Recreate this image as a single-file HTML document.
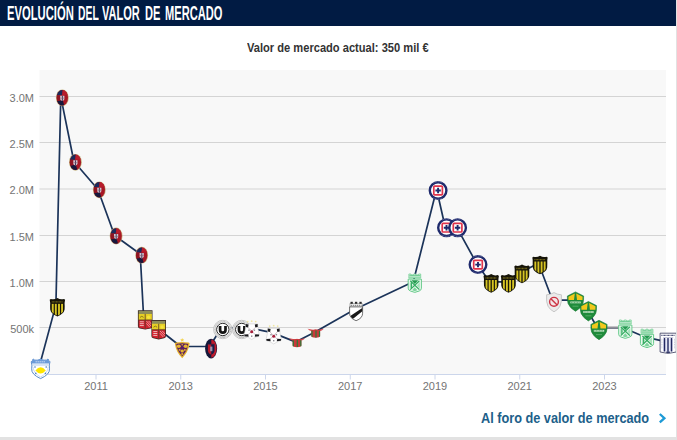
<!DOCTYPE html>
<html><head><meta charset="utf-8">
<style>
html,body{margin:0;padding:0;}
body{width:677px;height:440px;overflow:hidden;background:#e2e2e2;font-family:"Liberation Sans",sans-serif;position:relative;}
#box{position:absolute;left:0;top:0;width:676px;height:437px;background:#fff;overflow:hidden;}
#hdr{position:absolute;left:0;top:0;width:676px;height:26px;background:#011b43;}
#ttl span{position:absolute;top:1.6px;font-size:19.3px;line-height:23px;font-weight:bold;color:#fff;white-space:nowrap;transform-origin:0 0;}
#sub{position:absolute;left:247px;top:41px;font-size:12px;line-height:15px;font-weight:bold;color:#333;white-space:nowrap;transform-origin:0 0;transform:scaleX(0.926);}
#lnk{position:absolute;left:481px;top:409px;font-size:14px;line-height:18px;font-weight:bold;color:#1d5f8a;white-space:nowrap;transform-origin:0 0;transform:scaleX(0.908);}
svg{position:absolute;left:0;top:0;}
.yl{font-size:11px;fill:#747474;text-anchor:end;}
.xl{font-size:11px;fill:#747474;text-anchor:middle;}
</style></head><body>
<div id="box">
<div id="hdr"><div id="ttl"><span style="left:6.5px;transform:scaleX(0.583)">EVOLUCIÓN</span><span style="left:78.3px;transform:scaleX(0.537)">DEL</span><span style="left:102.3px;transform:scaleX(0.572)">VALOR</span><span style="left:144.8px;transform:scaleX(0.575)">DE</span><span style="left:165.2px;transform:scaleX(0.576)">MERCADO</span></div></div>
<div id="sub">Valor de mercado actual: 350 mil €</div>
<svg width="677" height="440" viewBox="0 0 677 440" font-family="Liberation Sans, sans-serif">
<defs>
<!-- Alianza Atletico style light-blue badge -->
<symbol id="alz" overflow="visible">
<path d="M-7.4,-9.8 Q-6.4,-8.2 -3.4,-8.6 Q-1.2,-8.8 0,-9.9 Q1.2,-8.8 3.4,-8.6 Q6.4,-8.2 7.4,-9.8 Q8,-8 9.4,-7 Q8.2,-4 8.9,0 Q9.4,5.6 0,9.8 Q-9.4,5.6 -8.9,0 Q-8.2,-4 -9.4,-7 Q-8,-8 -7.4,-9.8 Z" fill="#fff" stroke="#5a8bcb" stroke-width="1"/>
<path d="M-7.4,-9.8 Q-6.4,-8.2 -3.4,-8.6 Q-1.2,-8.8 0,-9.9 Q1.2,-8.8 3.4,-8.6 Q6.4,-8.2 7.4,-9.8 Q8,-8 9.4,-7 Q8.9,-5.8 8.7,-5.2 L-8.7,-5.2 Q-8.9,-5.8 -9.4,-7 Q-8,-8 -7.4,-9.8 Z" fill="#6c9bd9"/>
<path d="M-5,-7 H5" stroke="#e6eefa" stroke-width="0.9" stroke-dasharray="1.2 0.8"/>
<path d="M-7.8,-3.8 H7.8" stroke="#8fb2e0" stroke-width="0.7"/>
<path d="M-7.6,-2 Q-7.2,4.6 0,8.2 Q7.2,4.6 7.6,-2" fill="none" stroke="#a9c4e8" stroke-width="0.6"/>
<path d="M-5.2,1.7 Q-2.6,-1.6 0,-1.6 Q2.6,-1.6 5.2,1.7 Q2.6,4.8 0,4.8 Q-2.6,4.8 -5.2,1.7 Z" fill="#ffe500"/>
<g fill="#4a7fc4"><circle cx="-5.6" cy="-1.8" r="0.8"/><circle cx="5.6" cy="-1.8" r="0.8"/><circle cx="-4.8" cy="4.6" r="0.8"/><circle cx="4.8" cy="4.6" r="0.8"/></g>
</symbol>
<!-- Penarol -->
<clipPath id="penc"><path d="M-6.6,-3.4 H6.6 L6.5,2.3 Q6,5.9 0,8.5 Q-6,5.9 -6.5,2.3 Z"/></clipPath>
<symbol id="pen" overflow="visible">
<path d="M-7.7,-7.4 L-6.6,-8.3 Q-3,-7.2 0,-9.3 Q3,-7.2 6.6,-8.3 L7.7,-7.4 Q7,-5 7.3,-1 L7.2,2.4 Q6.6,6.6 0,9.3 Q-6.6,6.6 -7.2,2.4 L-7.3,-1 Q-7,-5 -7.7,-7.4 Z" fill="#161408"/>
<path d="M-5.6,-5.4 H5.6" stroke="#7a6e1c" stroke-width="1.3" stroke-dasharray="0.9 0.5"/>
<g clip-path="url(#penc)" fill="#d6c424"><rect x="-5.6" y="-4" width="1.9" height="14"/><rect x="-2.55" y="-4" width="1.9" height="14"/><rect x="0.65" y="-4" width="1.9" height="14"/><rect x="3.7" y="-4" width="1.9" height="14"/></g>
</symbol>
<!-- Cagliari old -->
<clipPath id="cagc"><ellipse cx="0" cy="0" rx="5.7" ry="7.7"/></clipPath>
<symbol id="cag" overflow="visible">
<ellipse cx="0" cy="0" rx="6.4" ry="8.4" fill="#b9a468" opacity="0.85"/>
<g clip-path="url(#cagc)"><rect x="-6" y="-9" width="12" height="18" fill="#a81826"/><path d="M-6,-9 H0.6 L-0.4,-2.6 H-6 Z" fill="#1b2a5c"/><path d="M-6,3.2 L0.4,2.4 L2.4,9 H-6 Z" fill="#17183c"/><path d="M0.6,-9 H6 V-3 L0,-2.6 Z" fill="#b81c2c"/><path d="M-6,-2.6 H-2.4 V3 L-6,3.4 Z" fill="#8f1422"/></g>
<path d="M-2.1,-2.1 H2.1 V1.1 Q2.1,2.4 0,3.2 Q-2.1,2.4 -2.1,1.1 Z" fill="#cfc6d2"/>
<path d="M0.1,-2 V3" stroke="#3a2a4a" stroke-width="0.9"/>
<path d="M-2,0.4 H2" stroke="#8a5a6a" stroke-width="0.6"/>
</symbol>
<!-- Cagliari new -->
<symbol id="cg2" overflow="visible">
<ellipse cx="0" cy="0" rx="6" ry="9.9" fill="#15183a"/>
<path d="M0.2,-9.2 A5.2,9.2 0 0 1 0.2,9.2 Z" fill="#c21a2b"/>
<path d="M-3.2,-4.4 H0.2 V6.2 Q-3.2,4.8 -3.2,2 Z" fill="#b81a2a"/>
<path d="M0.2,-4.4 H3.4 V2 Q3.4,4.8 0.2,6.2 Z" fill="#1a1d48"/>
<rect x="-0.9" y="-2" width="2.2" height="4.6" fill="#a9a3bd" opacity="0.9"/>
<path d="M-3.2,-4.4 H3.4" stroke="#3a2348" stroke-width="0.6"/>
</symbol>
<!-- Barcelona SC -->
<clipPath id="bscc"><path d="M-6.7,-9 H6.7 V6.4 Q6.7,7.6 5.2,8 L0,9.2 L-5.2,8 Q-6.7,7.6 -6.7,6.4 Z"/></clipPath>
<symbol id="bsc" overflow="visible">
<path d="M-7.3,-9.6 H7.3 V6.5 Q7.3,8.2 5.4,8.6 L0,9.8 L-5.4,8.6 Q-7.3,8.2 -7.3,6.5 Z" fill="#3a2b26"/>
<g clip-path="url(#bscc)">
<rect x="-7" y="-9" width="14" height="3.4" fill="#8e8e58"/>
<rect x="-7" y="-5.8" width="14" height="6" fill="#e6cf24"/>
<rect x="-7" y="0.2" width="14" height="10" fill="#d0222f"/>
<path d="M-5.4,2 H-1.4 M-5.4,3.9 H-1.4 M-5.4,5.8 H-1.4" stroke="#f4c9c9" stroke-width="0.9"/>
<path d="M1.2,1.2 L6,6.4 M1.2,3.6 L4.6,7.4 M3.4,1.2 L6.4,4.4" stroke="#f0b4b4" stroke-width="0.8"/>
<path d="M0,-5.8 V9 M-7,0.2 H7" stroke="#5a3a28" stroke-width="0.8"/>
<path d="M-5.2,-2.4 Q-3.4,-4.6 -1.6,-2.4" stroke="#8a7a20" stroke-width="1" fill="none"/>
<circle cx="3.4" cy="-2.6" r="1.7" fill="#f4e23a"/>
</g>
</symbol>
<!-- Maribor -->
<symbol id="mar" overflow="visible">
<path d="M0,-10.6 L0.6,-9.3 L2,-9.1 L1,-8.1 L1.3,-6.7 L0,-7.4 L-1.3,-6.7 L-1,-8.1 L-2,-9.1 L-0.6,-9.3 Z" fill="#f3d452"/>
<path d="M-7.3,-4.4 Q-7.8,-5.7 -6.3,-5.9 Q0,-6.9 6.3,-5.9 Q7.8,-5.7 7.3,-4.4 Q6.2,3.6 0,9.7 Q-6.2,3.6 -7.3,-4.4 Z" fill="#e3b12b"/>
<path d="M-5.9,-3.9 Q-6.2,-4.7 -5.2,-4.8 Q0,-5.6 5.2,-4.8 Q6.2,-4.7 5.9,-3.9 Q5,2.6 0,7.7 Q-5,2.6 -5.9,-3.9 Z" fill="#5c2163"/>
<g fill="#e6b62e"><ellipse cx="-3.4" cy="-2.2" rx="2" ry="1.8"/><ellipse cx="3.4" cy="-2.2" rx="2" ry="1.8"/><ellipse cx="0" cy="2.5" rx="1.7" ry="1.6"/><ellipse cx="-2.6" cy="1.4" rx="1" ry="0.9"/><ellipse cx="2.6" cy="1.4" rx="1" ry="0.9"/><ellipse cx="0" cy="5.4" rx="1" ry="1"/><ellipse cx="0" cy="-3.8" rx="0.8" ry="0.7"/></g>
</symbol>
<!-- Universitario -->
<symbol id="uni" overflow="visible">
<circle r="9.2" fill="#fff" stroke="#b0b0b0" stroke-width="0.7"/>
<circle r="7.8" fill="#fafafa" stroke="#bcbcbc" stroke-width="1.4" stroke-dasharray="1 0.4"/>
<circle r="6.2" fill="#fff" stroke="#2a2a2a" stroke-width="1"/>
<path d="M-2.7,-3.5 V0.6 Q-2.7,3.2 0,3.2 Q2.7,3.2 2.7,0.6 V-3.5" fill="none" stroke="#151515" stroke-width="2.7"/>
<path d="M-2.4,7.6 H2.4" stroke="#aaa" stroke-width="0.6"/>
</symbol>
<!-- Boavista -->
<symbol id="boa" overflow="visible">
<g fill="#efe6a4"><circle cx="-4" cy="-8.5" r="0.9"/><circle cx="0" cy="-8.9" r="0.9"/><circle cx="4" cy="-8.5" r="0.9"/></g>
<path d="M-5.9,-6.2 H5.9 Q6.1,-1 7.5,4.6 L7.3,6.1 Q3,7 0,9.4 Q-3,7 -7.3,6.1 L-7.5,4.6 Q-6.1,-1 -5.9,-6.2 Z" fill="#fff" stroke="#c4c4c4" stroke-width="0.5"/>
<g fill="#1b1b1f"><path d="M-5.9,-6.1 L-3.1,-5.7 L-3.6,-2.5 L-6,-3.1 Z"/><path d="M5.9,-6.1 L3.1,-5.7 L3.6,-2.5 L6,-3.1 Z"/><path d="M-7.4,4.3 L-3.4,4.1 L-3.1,6.7 L-7.2,6.2 Z"/><path d="M7.4,4.3 L3.4,4.1 L3.1,6.7 L7.2,6.2 Z"/></g>
<path d="M-3.8,-2.8 L3.6,4.6 M3.8,-2.8 L-3.6,4.6" stroke="#b7a3ab" stroke-width="0.7"/>
<g fill="#8c8c94"><rect x="-3.4" y="-0.6" width="1.4" height="1.4"/><rect x="2" y="-0.6" width="1.4" height="1.4"/><rect x="-0.7" y="5.4" width="1.4" height="1.4"/></g>
<circle cx="0" cy="1.7" r="1.5" fill="#a61f3a"/>
</symbol>
<!-- Maritimo -->
<symbol id="mtm" overflow="visible">
<path d="M-8.2,-4.5 Q-4.6,-4.3 -2.4,-3.3 L0,-3.9 L2.4,-3.3 Q4.6,-4.3 8.2,-4.5 Q6.4,-2.2 3.4,-1.9 L-3.4,-1.9 Q-6.4,-2.2 -8.2,-4.5 Z" fill="#d8484e" opacity="0.9"/>
<path d="M-4.4,-3.4 Q0,-4.2 4.4,-3.4 V2.4 Q4.4,4.2 0,4.5 Q-4.4,4.2 -4.4,2.4 Z" fill="#c9393b"/>
<path d="M-3.7,-2.6 V3.4 M0.3,-2.8 V4.3 M3.8,-2.6 V3.4" stroke="#2c7a38" stroke-width="1.2"/>
</symbol>
<!-- Danubio -->
<clipPath id="danc"><path d="M-6.2,-4 H6.2 V2 Q6.2,6.8 0,9 Q-6.2,6.8 -6.2,2 Z"/></clipPath>
<symbol id="dan" overflow="visible">
<path d="M-6.2,-7.8 H6.2 V-4 H-6.2 Z" fill="#f1f1f1" stroke="#8a8a8a" stroke-width="0.6"/>
<g fill="#2b2b2b"><rect x="-5.6" y="-9.5" width="2.3" height="2"/><rect x="-1.15" y="-9.5" width="2.3" height="2"/><rect x="3.3" y="-9.5" width="2.3" height="2"/></g>
<path d="M-5.4,-5.9 H5.4" stroke="#8e8e8e" stroke-width="1.1" stroke-dasharray="1.3 0.7"/>
<path d="M-6.5,-4.4 H6.5 V2 Q6.5,7 0,9.4 Q-6.5,7 -6.5,2 Z" fill="#fff" stroke="#4a4a4a" stroke-width="0.8"/>
<g clip-path="url(#danc)"><path d="M7,-3.9 L7,-0.6 L-4.6,8.6 L-7,6.2 L-7,5.4 Z" fill="#181818"/></g>
</symbol>
<!-- Atletico Nacional -->
<symbol id="nac" overflow="visible">
<path d="M-5.9,-9.2 H-3.9 V-8.3 H-1 V-9.2 H1 V-8.3 H3.9 V-9.2 H5.9 V-5.2 H-5.9 Z" fill="#eefaf2" stroke="#6fce91" stroke-width="0.8"/>
<path d="M-5.4,-7.4 H5.4" stroke="#4fbf78" stroke-width="1"/>
<path d="M-5.4,-5.9 H5.4" stroke="#7fd49d" stroke-width="0.8"/>
<path d="M-6.6,-4.1 H6.6 V5 Q6.6,7 4.4,7.8 L0,9.2 L-4.4,7.8 Q-6.6,7 -6.6,5 Z" fill="#ecf9f0" stroke="#66ca8a" stroke-width="1"/>
<path d="M-5,-1.2 V5.6 L-2,2.2 Z M5,-1.2 V5.6 L2,2.2 Z" fill="#a8e3bd"/>
<path d="M-4.6,-2.4 L4.6,6.4 M4.6,-2.4 L-4.6,6.4" stroke="#36ad63" stroke-width="1.3"/>
<path d="M-3.4,-3 H3.4 L0,0.8 Z" fill="#249a50"/>
<path d="M-2.6,7 L0,4 L2.6,7 L0,8 Z" fill="#7fd49d"/>
<path d="M-3.4,-1.6 V5" stroke="#35ab62" stroke-width="1.1"/>
</symbol>
<!-- Cruz Azul -->
<symbol id="caz" overflow="visible">
<circle r="8.3" fill="#fff" stroke="#1f2a6c" stroke-width="2.4"/>
<path d="M-4.6,-7.4 A8.4,8.4 0 0 1 4.6,-7.4 M-4.6,7.4 A8.4,8.4 0 0 0 4.6,7.4" stroke="#8c93bb" stroke-width="0.7" fill="none" stroke-dasharray="0.9 0.7"/>
<rect x="-4.3" y="-4.3" width="8.6" height="8.6" rx="0.8" fill="#fff" stroke="#e0354c" stroke-width="1.7"/>
<path d="M0,-2.7 V2.7 M-2.7,0 H2.7" stroke="#1f2a6c" stroke-width="1.9"/>
</symbol>
<!-- no club -->
<symbol id="noc" overflow="visible">
<path d="M-7.4,-7.4 Q-3,-7.6 0,-9.6 Q3,-7.6 7.4,-7.4 Q8,0 6,4 Q4,7.6 0,9.6 Q-4,7.6 -6,4 Q-8,0 -7.4,-7.4 Z" fill="#ebebeb" stroke="#c2c2c2" stroke-width="0.9"/>
<circle cx="0" cy="-0.4" r="4.4" fill="#f3e6e7" stroke="#cc3444" stroke-width="1.4"/>
<path d="M-3.1,-3.5 L3.1,2.7" stroke="#cc3444" stroke-width="1.4"/>
</symbol>
<!-- Cuiaba -->
<clipPath id="cuic"><path d="M0,-9.7 L8.1,-5.6 Q8.3,-1 7.4,2 Q5.6,6.4 0,9.7 Q-5.6,6.4 -7.4,2 Q-8.3,-1 -8.1,-5.6 Z"/></clipPath>
<symbol id="cui" overflow="visible">
<path d="M0,-9.7 L8.1,-5.6 Q8.3,-1 7.4,2 Q5.6,6.4 0,9.7 Q-5.6,6.4 -7.4,2 Q-8.3,-1 -8.1,-5.6 Z" fill="#1f8b3b" stroke="#187a32" stroke-width="0.6" stroke-linejoin="round"/>
<g clip-path="url(#cuic)">
<path d="M-7.1,-4.9 L-0.7,-8.1 L-1.5,-1.5 H-7 Z M7.1,-4.9 L0.7,-8.1 L1.5,-1.5 H7 Z" fill="#f2c81c"/>
<rect x="-5.2" y="-0.1" width="10.4" height="1.8" fill="#d9efd9" opacity="0.9"/>
<path d="M-4.6,0.8 H4.6" stroke="#2a8f44" stroke-width="0.7" stroke-dasharray="1 0.55"/>
<path d="M-3,4.6 H3" stroke="#6ab97a" stroke-width="0.7"/>
</g>
</symbol>
<!-- Alianza Lima -->
<symbol id="ali" overflow="visible">
<path d="M-8.1,-10.2 H8.1 V8.6 Q4,9.4 0,10 Q-4,9.4 -8.1,8.6 Z" fill="#fff" stroke="#34365a" stroke-width="0.8"/>
<path d="M-6.8,-8 H6.8" stroke="#2a2e5e" stroke-width="1.2" stroke-dasharray="0.8 0.55"/>
<path d="M-3.7,-5 V8 M-0.2,-5 V8.4 M3.3,-5 V8" stroke="#cfd1ea" stroke-width="3"/>
<path d="M-3.7,-5.4 V8 M-0.2,-5.4 V8.4 M3.3,-5.4 V8" stroke="#23285e" stroke-width="1.3"/>
<path d="M-6.3,-4.6 V5.6 M6.3,-4.6 V5.6" stroke="#c4c6d6" stroke-width="0.9" stroke-dasharray="1 0.7"/>
<path d="M-5,-5.8 H5" stroke="#9a9cc0" stroke-width="0.6"/>
<rect x="-1.9" y="8.2" width="3.6" height="1.3" fill="#23285e"/>
</symbol>

</defs>
<rect x="39.5" y="70" width="626.5" height="304" fill="#f8f8f8"/>
<g stroke="#d4d4d4" stroke-width="1">
<line x1="39.5" x2="666" y1="96.5" y2="96.5"/>
<line x1="39.5" x2="666" y1="142.5" y2="142.5"/>
<line x1="39.5" x2="666" y1="189.0" y2="189.0"/>
<line x1="39.5" x2="666" y1="235.5" y2="235.5"/>
<line x1="39.5" x2="666" y1="281.5" y2="281.5"/>
<line x1="39.5" x2="666" y1="327.5" y2="327.5"/>
<line x1="39.5" x2="666" y1="374.5" y2="374.5" stroke="#ccd6eb"/>
<line x1="96" x2="96" y1="375" y2="379.5" stroke="#ccd6eb"/>
<line x1="180.75" x2="180.75" y1="375" y2="379.5" stroke="#ccd6eb"/>
<line x1="265.5" x2="265.5" y1="375" y2="379.5" stroke="#ccd6eb"/>
<line x1="350.25" x2="350.25" y1="375" y2="379.5" stroke="#ccd6eb"/>
<line x1="435" x2="435" y1="375" y2="379.5" stroke="#ccd6eb"/>
<line x1="519.75" x2="519.75" y1="375" y2="379.5" stroke="#ccd6eb"/>
<line x1="604.5" x2="604.5" y1="375" y2="379.5" stroke="#ccd6eb"/>
</g>
<g class="yl">
<text x="34" y="101.5">3.0M</text>
<text x="34" y="147.5">2.5M</text>
<text x="34" y="194.0">2.0M</text>
<text x="34" y="240.5">1.5M</text>
<text x="34" y="286.5">1.0M</text>
<text x="34" y="332.5">500k</text>
</g>
<g class="xl">
<text x="96" y="390">2011</text>
<text x="180.75" y="390">2013</text>
<text x="265.5" y="390">2015</text>
<text x="350.25" y="390">2017</text>
<text x="435" y="390">2019</text>
<text x="519.75" y="390">2021</text>
<text x="604.5" y="390">2023</text>
</g>
<polyline fill="none" stroke="#1b3359" stroke-width="1.7" stroke-linejoin="round" stroke-linecap="round" points="39.1,367.3 55.9,304.9 60.8,96.8 73.9,161.5 97.8,189.2 114.6,235.5 140.2,254.0 143.7,318.8 157.2,328.0 180.7,346.5 209.6,346.5 221.3,328.0 240.2,328.0 250.2,328.0 272.2,332.6 295.5,341.9 314.2,332.6 354.6,309.5 413.3,281.8 436.6,189.2 445.0,226.2 456.1,226.2 476.5,263.2 489.7,281.8 507.0,281.8 520.5,272.5 538.5,263.2 552.5,300.2 574.0,300.2 586.9,309.5 597.5,328.0 623.8,328.0 645.5,337.2 666.7,341.9"/>
<path d="M607,327.6 H619" stroke="#8f8f97" stroke-width="2.2"/>
<use href="#alz" x="40.6" y="368.8"/>
<use href="#pen" x="57.4" y="307.2"/>
<use href="#cag" x="62.3" y="97.8"/>
<use href="#cag" x="75.4" y="162.3"/>
<use href="#cag" x="99.3" y="189.8"/>
<use href="#cag" x="116.1" y="236.0"/>
<use href="#cag" x="141.7" y="255.2"/>
<use href="#bsc" x="145.2" y="319.8"/>
<use href="#bsc" x="158.7" y="329.6"/>
<use href="#mar" x="182.2" y="348.5"/>
<use href="#cg2" x="211.1" y="348.6"/>
<use href="#uni" x="222.8" y="329.5"/>
<use href="#uni" x="241.7" y="329.5"/>
<use href="#boa" x="251.7" y="330.1"/>
<use href="#boa" x="273.7" y="334.6"/>
<use href="#mtm" x="297.0" y="342.75"/>
<use href="#mtm" x="315.7" y="333.3"/>
<use href="#dan" x="356.1" y="311.3"/>
<use href="#nac" x="414.8" y="283.2"/>
<use href="#caz" x="438.1" y="190.5"/>
<use href="#caz" x="446.5" y="227.7"/>
<use href="#caz" x="457.6" y="227.7"/>
<use href="#caz" x="478.0" y="264.6"/>
<use href="#pen" x="491.2" y="283.4"/>
<use href="#pen" x="508.5" y="283.4"/>
<use href="#pen" x="522.0" y="273.9"/>
<use href="#pen" x="540.0" y="265.0"/>
<use href="#noc" x="554.0" y="302.2"/>
<use href="#cui" x="575.5" y="301.6"/>
<use href="#cui" x="588.4" y="311.2"/>
<use href="#cui" x="599.0" y="330.0"/>
<use href="#nac" x="625.3" y="329.2"/>
<use href="#nac" x="647.0" y="338.4"/>
<use href="#ali" x="668.2" y="343.4"/>
<path d="M659.8 414 L664.4 418.2 L659.8 422.4" fill="none" stroke="#1d9ad6" stroke-width="2.3"/>
</svg>
<div id="lnk">Al foro de valor de mercado</div>
</div>
</body></html>
